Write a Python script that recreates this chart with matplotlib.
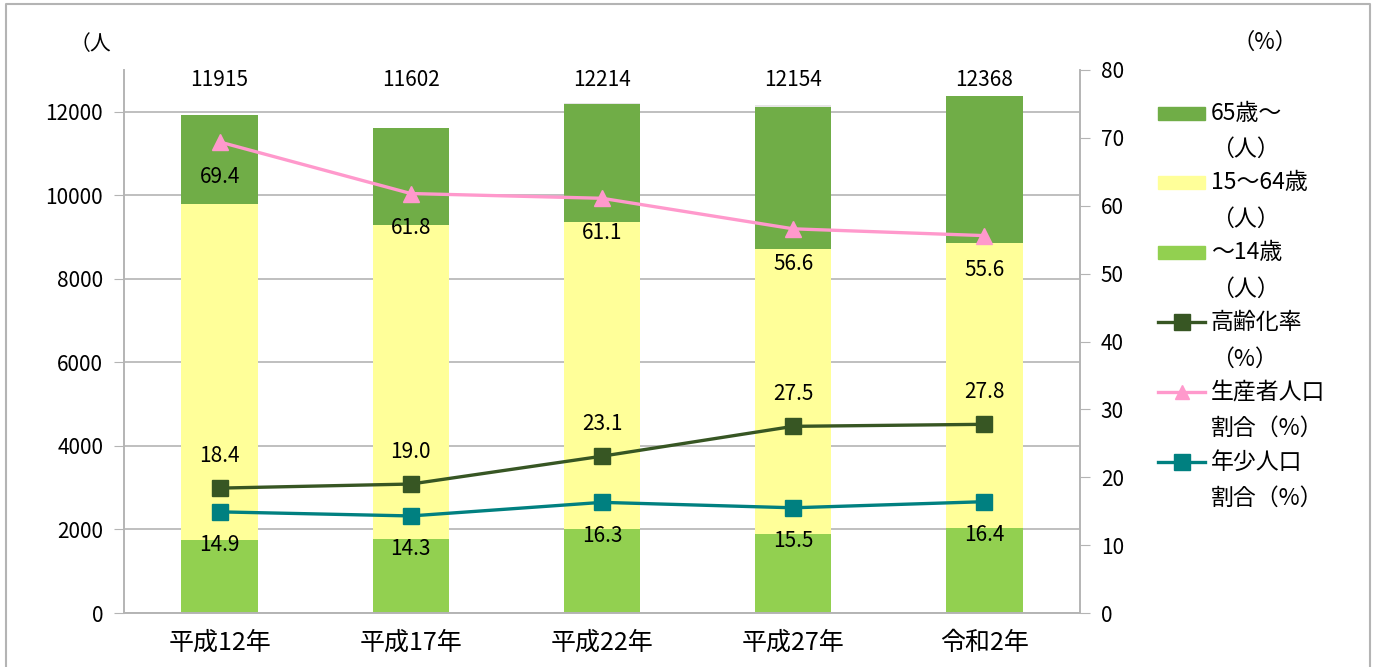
import matplotlib

matplotlib.use("Agg")
import matplotlib.pyplot as plt
from matplotlib.patches import Rectangle
from matplotlib.lines import Line2D

plt.rcParams["font.family"] = ["Noto Sans CJK JP", "DejaVu Sans"]

# data
years = ["平成12年", "平成17年", "平成22年", "平成27年", "令和2年"]
pop_0_14 = [1750, 1765, 2000, 1900, 2040]
pop_15_64 = [8039, 7535, 7365, 6818, 6822]
pop_65 = [2126, 2302, 2814, 3392, 3506]
pop_unknown = [0, 0, 35, 44, 0]
totals = [11915, 11602, 12214, 12154, 12368]
aging_rate = [18.4, 19.0, 23.1, 27.5, 27.8]
working_share = [69.4, 61.8, 61.1, 56.6, 55.6]
youth_share = [14.9, 14.3, 16.3, 15.5, 16.4]

C_YOUNG = "#92D050"
C_WORK = "#FFFF99"
C_OLD = "#70AD47"
C_AGING = "#375623"
C_WSHARE = "#FF99CC"
C_YSHARE = "#008080"
GREY = "#B4B4B4"

W, H = 1373, 667
fig = plt.figure(figsize=(W / 100, H / 100), dpi=100)
ax = fig.add_axes([124 / W, 1 - 613 / H, (1080 - 124) / W, (613 - 70) / H])
ax2 = ax.twinx()

x = list(range(len(years)))
bottom2 = [a + b for a, b in zip(pop_0_14, pop_15_64)]
bottom3 = [a + b for a, b in zip(bottom2, pop_65)]
ax.bar(x, pop_0_14, width=0.4, color=C_YOUNG, zorder=2)
ax.bar(x, pop_15_64, width=0.4, bottom=pop_0_14, color=C_WORK, zorder=2)
ax.bar(x, pop_65, width=0.4, bottom=bottom2, color=C_OLD, zorder=2)
ax.bar(x, pop_unknown, width=0.4, bottom=bottom3, color="#E6E6E6", zorder=2)

for xi, t in zip(x, totals):
    ax.text(xi, 12750, f"{t}", ha="center", va="center", fontsize=15)

ax.set_xlim(-0.5, len(years) - 0.5)
ax.set_ylim(0, 13000)
ax.set_yticks(range(0, 12001, 2000))
ax.set_xticks(x)
ax.set_xticklabels(years, fontsize=18)
ax.tick_params(axis="x", length=0, pad=12)
ax.tick_params(axis="y", labelsize=15, length=7, color=GREY, pad=8)
ax.yaxis.grid(True, color=GREY, lw=1.2, zorder=0)
ax.set_axisbelow(True)

ls = dict(lw=2.4, markersize=11)
ax2.plot(x, aging_rate, color=C_AGING, marker="s", **ls)
ax2.plot(x, working_share, color=C_WSHARE, marker="^", **ls)
ax2.plot(x, youth_share, color=C_YSHARE, marker="s", **ls)
ax2.set_ylim(0, 80)
ax2.set_yticks(range(0, 81, 10))
ax2.tick_params(axis="y", labelsize=15, length=7, color=GREY, pad=8)

for xi, v in zip(x, aging_rate):
    ax2.annotate(f"{v:.1f}", (xi, v), xytext=(0, 23), textcoords="offset points",
                 ha="center", va="center", fontsize=15)
for xi, v in zip(x, working_share):
    ax2.annotate(f"{v:.1f}", (xi, v), xytext=(0, -25), textcoords="offset points",
                 ha="center", va="center", fontsize=15)
for xi, v in zip(x, youth_share):
    ax2.annotate(f"{v:.1f}", (xi, v), xytext=(0, -24), textcoords="offset points",
                 ha="center", va="center", fontsize=15)

for a in (ax, ax2):
    a.spines["top"].set_visible(False)
    for s in ("left", "right", "bottom"):
        a.spines[s].set_color(GREY)
        a.spines[s].set_linewidth(1.2)

fig.text(90 / W, 1 - 44 / H, "（人", ha="center", va="center", fontsize=15)
fig.text(1265 / W, 1 - 42 / H, "（%）", ha="center", va="center", fontsize=16)

# legend, drawn by hand so each two-line entry matches the reference spacing
legend_items = [
    ("bar", C_OLD, None, "65歳～", "（人）"),
    ("bar", C_WORK, None, "15～64歳", "（人）"),
    ("bar", C_YOUNG, None, "～14歳", "（人）"),
    ("line", C_AGING, "s", "高齢化率", "（%）"),
    ("line", C_WSHARE, "^", "生産者人口", "割合（%）"),
    ("line", C_YSHARE, "s", "年少人口", "割合（%）"),
]
tf = fig.transFigure
for k, (kind, col, mk, line1, line2) in enumerate(legend_items):
    y = 113 + 69.8 * k
    if kind == "bar":
        fig.add_artist(Rectangle((1158 / W, 1 - (y + 6.5) / H), 47 / W, 13 / H,
                                 transform=tf, color=col))
    else:
        fig.add_artist(Line2D([1158 / W, 1205 / W], [1 - y / H, 1 - y / H],
                              transform=tf, color=col, lw=2.4))
        fig.add_artist(Line2D([1181.5 / W], [1 - y / H], transform=tf, color=col,
                              marker=mk, markersize=11 if mk == "s" else 10, lw=0))
    fig.text(1211 / W, 1 - y / H, line1, ha="left", va="center", fontsize=16.5)
    fig.text(1211 / W, 1 - (y + 36.5) / H, line2, ha="left", va="center", fontsize=16.5)

# chart border
fig.add_artist(Line2D([6 / W, 6 / W, 1370 / W, 1370 / W],
                      [0, 1 - 4 / H, 1 - 4 / H, 0],
                      transform=tf, color=GREY, lw=1.5))

fig.savefig("out.png", dpi=100)
